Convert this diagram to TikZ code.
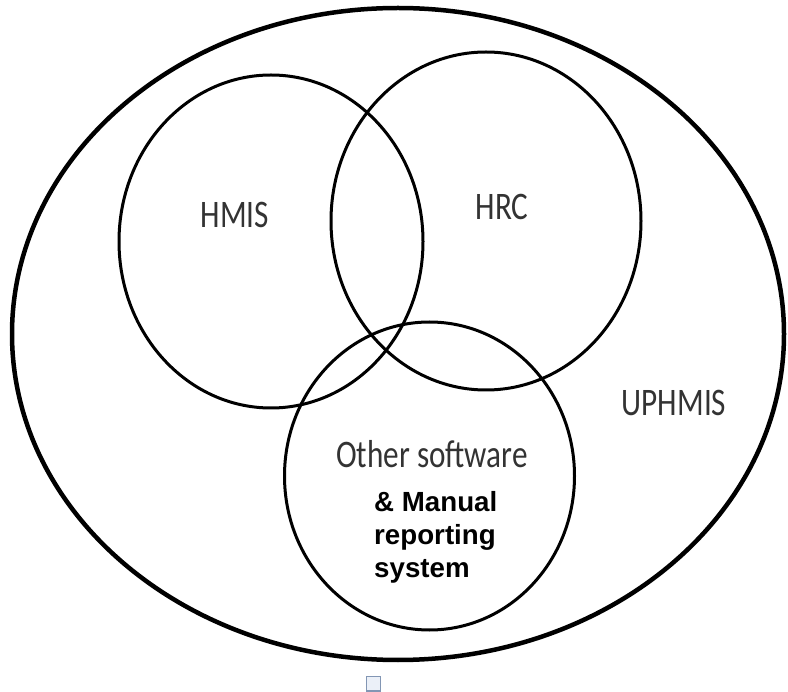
\documentclass[tikz,border=0pt]{standalone}
\usepackage{fontspec}
\newfontfamily\setfont[FakeStretch=0.8]{Carlito}
\newfontfamily\notefont{Liberation Sans}
\usetikzlibrary{shapes.geometric}

\begin{document}
\begin{tikzpicture}[x=1pt, y=-1pt, inner sep=0pt]
		\useasboundingbox (0,0) rectangle (788,692);
		
		\node[shape=ellipse, draw=black, line width=4.5pt, minimum width=772pt, minimum height=652pt] (U) at (398,334) {};
		\node[shape=ellipse, draw=black, line width=3pt, minimum width=304pt, minimum height=333pt] (H) at (271,241.5) {};
		\node[shape=ellipse, draw=black, line width=3pt, minimum width=310pt, minimum height=338pt] (R) at (486,221) {};
		\node[shape=ellipse, draw=black, line width=3pt, minimum width=290pt, minimum height=308pt] (O) at (429.5,476) {};
		
		\node[text=black!80] (h) at (235,215) {\setfont\fontsize{39}{44}\selectfont HMIS};
		\node[text=black!80] (r) at (502,207) {\setfont\fontsize{39}{44}\selectfont HRC};
		\node[text=black!80] (u) at (674,403) {\setfont\fontsize{39}{44}\selectfont UPHMIS};
		\node[text=black!80] (o) at (432,454) {\setfont\fontsize{39}{44}\selectfont Other software};
		\node[anchor=north west, align=left, font=\notefont\bfseries\fontsize{27.7}{33}\selectfont] (m) at (374,491) {\& Manual\\reporting\\system};
		
		\draw[draw={rgb,255:red,130;green,150;blue,180}, fill={rgb,255:red,235;green,240;blue,248}, line width=1.5pt] (366.5,676.5) rectangle (380.5,691);
		
	\end{tikzpicture}
\end{document}
